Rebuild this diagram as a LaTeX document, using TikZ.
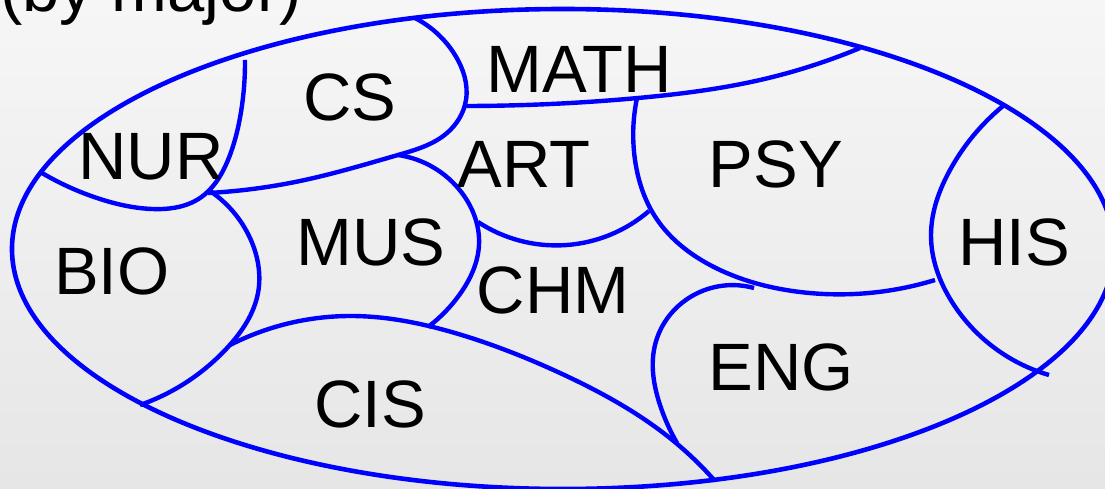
\documentclass[tikz,border=0pt]{standalone}
\usepackage{fontspec}
\setmainfont{Liberation Sans}
\usetikzlibrary{hobby}
\definecolor{bgtop}{RGB}{246,246,246}
\definecolor{bgbot}{RGB}{230,230,230}
\definecolor{regblue}{RGB}{0,0,255}
\tikzset{
  border/.style={draw=regblue, line width=4.6pt},
  region/.style={draw=regblue, line width=4.4pt, use Hobby shortcut},
  lab/.style={font=\fontsize{67}{80}\selectfont, text=black, inner sep=0pt, anchor=base},
}
\begin{document}
\begin{tikzpicture}[x=1pt,y=-1pt]
\clip (0,0) rectangle (1105,489);
\useasboundingbox (0,0) rectangle (1105,489);
\shade[top color=bgtop, bottom color=bgbot] (0,0) rectangle (1105,489);
% title
\node[lab, anchor=base west] (title) at (0,12) {(by major)};
% outer ellipse
\draw[border] (563,249) ellipse [x radius=551pt, y radius=240pt];
% region boundaries
\draw[region] (42,173) .. (100,199) .. (152,209) .. (200,198) .. (228,160) .. (241,112) .. (245,60);
\draw[region] (208,193) .. (300,181) .. (398,155) .. (447,133) .. (466,100) .. (455,55) .. (415,18);
\draw[region] (466,106) .. (638,98) .. (760,80) .. (860,48);
\draw[region] (398,155) .. (462,193) .. (479,245) .. (460,294) .. (428,327);
\draw[region] (478,222) .. (567,245) .. (649,211);
\draw[region] (637,98) .. (635,160) .. (656,218) .. (720,270) .. (800,292) .. (935,280);
\draw[region] (1003,106) .. (950,170) .. (931,235) .. (952,302) .. (1049,375);
\draw[region] (210,191) .. (250,238) .. (258,293) .. (228,347) .. (140,405);
\draw[region] (230,345) .. (350,316) .. (455,333) .. (560,373) .. (676,443) .. (715,481);
\draw[region] (754,288) .. (692,296) .. (655,345) .. (660,405) .. (677,443);
% labels
\node[lab] (math) at (579,93) {MATH};
\node[lab] (cs) at (350,121) {CS};
\node[lab] (nur) at (151,180) {NUR};
\node[lab] (art) at (524,188) {ART};
\node[lab] (psy) at (776,188) {PSY};
\node[lab] (his) at (1014,265) {HIS};
\node[lab] (mus) at (371,265) {MUS};
\node[lab] (bio) at (112,294) {BIO};
\node[lab] (chm) at (553,313) {CHM};
\node[lab] (eng) at (781,390) {ENG};
\node[lab] (cis) at (370,427) {CIS};
\end{tikzpicture}
\end{document}
